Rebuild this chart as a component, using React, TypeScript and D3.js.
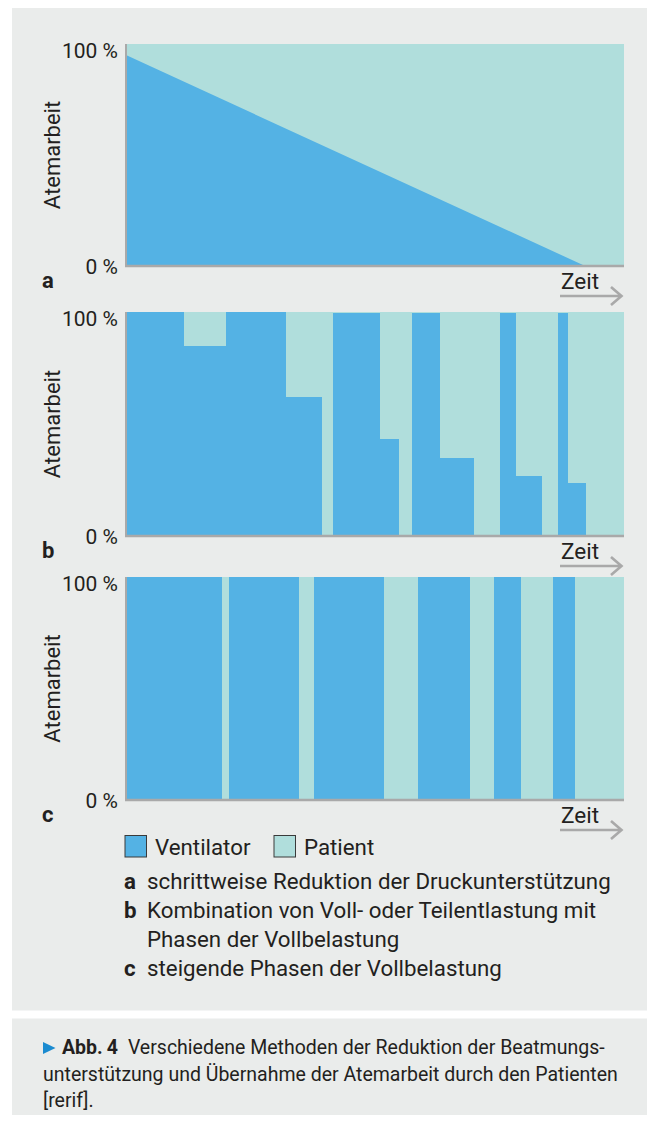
import * as d3 from "d3";
import React from "react";

// y axis ticks (share of breathing work in %)
const yTicks = [0, 100];
const yTickLabels = ["0 %", "100 %"];

// panel a: ventilator share falls linearly over time
const rampTime = [0, 92.2, 100];
const rampVentilator = [95, 0, 0];

// panel b: phase start times and ventilator share per phase
const phaseStartB = [0, 11.5, 20.1, 32.0, 39.2, 41.5, 50.9, 54.7, 57.5, 62.9, 69.8, 75.1, 78.2, 83.4, 86.8, 88.7, 92.3];
const ventilatorB = [100, 85, 100, 62, 0, 99.5, 43.5, 0, 99.5, 35, 0, 99.5, 27, 0, 99.5, 23.5, 0];

// panel c: phase start times and ventilator share per phase
const phaseStartC = [0, 19.1, 20.6, 34.6, 37.8, 51.7, 58.6, 69.0, 73.8, 79.2, 85.8, 90.0];
const ventilatorC = [100, 0, 100, 0, 100, 0, 100, 0, 100, 0, 100, 0];

const panelLetters = ["a", "b", "c"];
const yTitle = "Atemarbeit";
const xTitle = "Zeit";
const legendLabels = ["Ventilator", "Patient"];
const notes = [
  ["a", "schrittweise Reduktion der Druckunterstützung"],
  ["b", "Kombination von Voll- oder Teilentlastung mit"],
  ["", "Phasen der Vollbelastung"],
  ["c", "steigende Phasen der Vollbelastung"],
];
const captionLabel = "Abb.\u20094";
const captionLines = [
  "Verschiedene Methoden der Reduktion der Beatmungs-",
  "unterstützung und Übernahme der Atemarbeit durch den Patienten",
  "[rerif].",
];

const blue = "#54b2e4";
const teal = "#b0dedc";
const bg = "#eaeceb";
const axisGray = "#a9a9a9";
const textColor = "#231f20";
const font = "Roboto, 'Noto Sans', sans-serif";

const width = 655;
const height = 1123;
const tops = [44, 312, 577];
const bottoms = [266, 536, 800];

const x = d3.scaleLinear().domain([0, 100]).range([126, 624]);

function phases(starts: number[], vent: number[]) {
  return starts.map((s, j) => ({
    t0: s,
    t1: j < starts.length - 1 ? starts[j + 1] : 100,
    v: vent[j],
  }));
}

function Panel({ i }: { i: number }) {
  const y = d3.scaleLinear().domain([0, 100]).range([bottoms[i], tops[i]]);
  const cy = (y(0) + y(100)) / 2;
  const ay = y(0) + 30;

  let marks: React.ReactNode = null;
  if (i === 0) {
    const area = d3
      .area<[number, number]>()
      .x((d) => x(d[0]))
      .y0(y(0))
      .y1((d) => y(d[1]));
    const pts = rampTime.map((t, k) => [t, rampVentilator[k]] as [number, number]);
    marks = (
      <g>
        <rect x={x(0)} y={y(100)} width={x(100) - x(0)} height={y(0) - y(100)} fill={teal} />
        <path d={area(pts) || ""} fill={blue} />
      </g>
    );
  } else {
    const data = i === 1 ? phases(phaseStartB, ventilatorB) : phases(phaseStartC, ventilatorC);
    marks = (
      <g shapeRendering="crispEdges">
        <rect x={x(0)} y={y(100)} width={x(100) - x(0)} height={y(0) - y(100)} fill={teal} />
        {data
          .filter((d) => d.v > 0)
          .map((d, j) => (
            <rect
              key={"v" + j}
              x={x(d.t0)}
              width={x(d.t1) - x(d.t0) + 0.5}
              y={y(d.v)}
              height={y(0) - y(d.v)}
              fill={blue}
            />
          ))}
      </g>
    );
  }

  return (
    <g className={"panel-" + panelLetters[i]}>
      {marks}
      <line x1={x(0)} x2={x(0)} y1={y(100)} y2={y(0)} stroke={axisGray} strokeWidth={2} />
      <line x1={x(0) - 1} x2={x(100)} y1={y(0)} y2={y(0)} stroke={axisGray} strokeWidth={2.5} />
      {yTicks.map((t, j) => (
        <text
          key={t}
          x={118}
          y={y(t) + (t === 100 ? 13.5 : 7.5)}
          textAnchor="end"
          fontSize={21}
          fill={textColor}
        >
          {yTickLabels[j]}
        </text>
      ))}
      <text
        transform={`translate(60,${cy}) rotate(-90)`}
        textAnchor="middle"
        fontSize={22}
        fill={textColor}
      >
        {yTitle}
      </text>
      <text x={42} y={y(0) + 22} fontSize={22} fontWeight="bold" fill={textColor}>
        {panelLetters[i]}
      </text>
      <text x={561} y={y(0) + 23} fontSize={22.5} fill={textColor}>
        {xTitle}
      </text>
      <path
        d={`M560,${ay}H621M611,${ay - 9}L621.5,${ay}L611,${ay + 9}`}
        fill="none"
        stroke={axisGray}
        strokeWidth={2.6}
      />
    </g>
  );
}

function App() {
  const legendX = [125, 274];
  const noteY = [889, 918, 947, 976];
  const capY = [1054, 1080.5, 1107];

  return (
    <div style={{ margin: -8 }}>
      <svg width={width} height={height} style={{ display: "block", fontFamily: font }}>
        <rect width={width} height={height} fill="#fff" />
        <rect x={12} y={7} width={width - 12} height={1003.5} fill={bg} />
        <rect x={12} y={1018.5} width={width - 12} height={105} fill={bg} />

        {[0, 1, 2].map((i) => (
          <Panel key={i} i={i} />
        ))}

        <g className="legend">
          {legendLabels.map((label, j) => (
            <g key={label}>
              <rect
                x={legendX[j]}
                y={835.5}
                width={21.5}
                height={21.5}
                fill={j === 0 ? blue : teal}
                stroke="#3a3a3a"
                strokeWidth={1}
              />
              <text x={legendX[j] + 30} y={854.5} fontSize={22.3} fill={textColor}>
                {label}
              </text>
            </g>
          ))}
          {notes.map(([letter, text], j) => (
            <g key={j}>
              <text x={124} y={noteY[j]} fontSize={22.3} fontWeight="bold" fill={textColor}>
                {letter}
              </text>
              <text x={147} y={noteY[j]} fontSize={22.3} fill={textColor}>
                {text}
              </text>
            </g>
          ))}
        </g>

        <g className="caption">
          <path d="M43,1042L55.5,1048L43,1054Z" fill="#1b8bd0" />
          <text x={62} y={capY[0]} fontSize={19.5} fill={textColor}>
            <tspan fontWeight="bold">{captionLabel}</tspan>
            <tspan dx={10}>{captionLines[0]}</tspan>
          </text>
          {captionLines.slice(1).map((line, j) => (
            <text key={j} x={43} y={capY[j + 1]} fontSize={19.5} fill={textColor}>
              {line}
            </text>
          ))}
        </g>
      </svg>
    </div>
  );
}

export default App;
